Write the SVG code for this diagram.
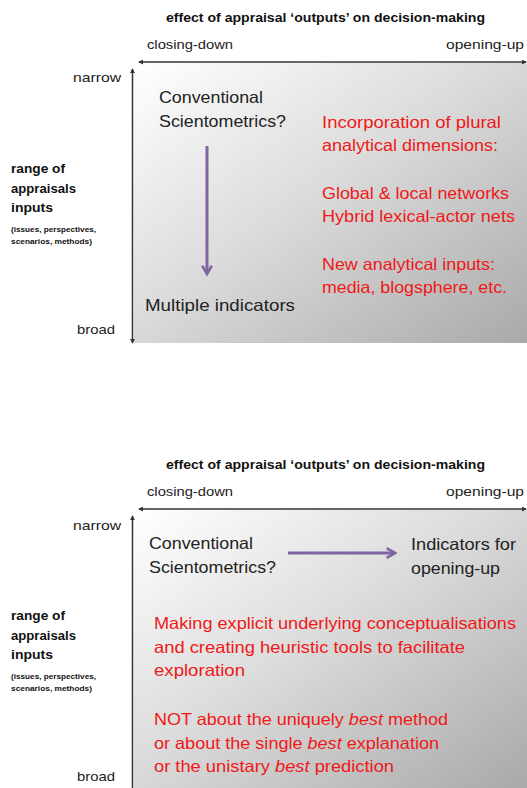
<svg xmlns="http://www.w3.org/2000/svg" width="527" height="788" viewBox="0 0 527 788">
<defs>
<linearGradient id="bg" x1="0" y1="0" x2="1" y2="1">
<stop offset="0" stop-color="#ffffff"/>
<stop offset="0.45" stop-color="#dcdcdc"/>
<stop offset="1" stop-color="#a9a9a9"/>
</linearGradient>
<marker id="ax" viewBox="0 0 6 6" refX="5" refY="3" markerWidth="5" markerHeight="5" orient="auto-start-reverse" markerUnits="userSpaceOnUse">
<path d="M0,0 L6,3 L0,6 Z" fill="#333"/>
</marker>
<marker id="pa" viewBox="0 0 10 10" refX="8" refY="5" markerWidth="4" markerHeight="4" orient="auto" markerUnits="strokeWidth">
<path d="M1,1 L8,5 L1,9" fill="none" stroke="#8064a2" stroke-width="2.2" stroke-linejoin="miter"/>
</marker>
</defs>
<style>
text{font-family:"Liberation Sans",Arial,sans-serif;}
.t{font-size:13px;font-weight:bold;fill:#111;}
.s{font-size:13px;fill:#222;}
.lab{font-size:13.5px;font-weight:bold;fill:#111;}
.tiny{font-size:7px;font-weight:bold;fill:#111;}
.big{font-size:16.5px;fill:#222;}
.red{font-size:16.5px;fill:#f01818;}
.axis{stroke:#333;stroke-width:1.5;fill:none;}
.parr{stroke:#8064a2;stroke-width:3;fill:none;}
</style>

<!-- Panel 1 -->
<g id="panel1-box"><rect x="134" y="63" width="393" height="280" fill="url(#bg)"/></g>
<g id="panel1-labels">
<text class="t" x="166" y="22" textLength="319" lengthAdjust="spacingAndGlyphs">effect of appraisal  ‘outputs’ on decision-making</text>
<text class="s" x="147" y="49" textLength="86" lengthAdjust="spacingAndGlyphs">closing-down</text>
<text class="s" x="446" y="49" textLength="78" lengthAdjust="spacingAndGlyphs">opening-up</text>
<text class="s" x="73" y="82" textLength="48" lengthAdjust="spacingAndGlyphs">narrow</text>
<text class="s" x="77" y="334" textLength="38" lengthAdjust="spacingAndGlyphs">broad</text>
<text class="lab" x="11" y="173" textLength="54" lengthAdjust="spacingAndGlyphs">range of</text>
<text class="lab" x="11" y="193" textLength="65" lengthAdjust="spacingAndGlyphs">appraisals</text>
<text class="lab" x="11" y="212" textLength="42" lengthAdjust="spacingAndGlyphs">inputs</text>
<text class="tiny" x="11" y="232" textLength="85" lengthAdjust="spacingAndGlyphs">(issues, perspectives,</text>
<text class="tiny" x="11" y="244" textLength="81" lengthAdjust="spacingAndGlyphs">scenarios, methods)</text>
</g>
<g id="p1-conventional">
<text class="big" x="159" y="103" textLength="104" lengthAdjust="spacingAndGlyphs">Conventional</text>
<text class="big" x="159" y="127" textLength="127" lengthAdjust="spacingAndGlyphs">Scientometrics?</text>
</g>
<g id="p1-multiple">
<text class="big" x="145" y="311" textLength="150" lengthAdjust="spacingAndGlyphs">Multiple indicators</text>
</g>
<g id="p1-red">
<text class="red" x="322" y="128" textLength="179" lengthAdjust="spacingAndGlyphs">Incorporation of plural</text>
<text class="red" x="322" y="151" textLength="176" lengthAdjust="spacingAndGlyphs">analytical dimensions:</text>
<text class="red" x="322" y="199" textLength="187" lengthAdjust="spacingAndGlyphs">Global &amp; local networks</text>
<text class="red" x="322" y="222" textLength="193" lengthAdjust="spacingAndGlyphs">Hybrid lexical-actor nets</text>
<text class="red" x="322" y="270" textLength="173" lengthAdjust="spacingAndGlyphs">New analytical inputs:</text>
<text class="red" x="322" y="293" textLength="185" lengthAdjust="spacingAndGlyphs">media, blogsphere, etc.</text>
</g>

<!-- Panel 2 -->
<g id="panel2-box"><rect x="134" y="510" width="393" height="278" fill="url(#bg)"/></g>
<g id="panel2-labels">
<text class="t" x="166" y="469" textLength="319" lengthAdjust="spacingAndGlyphs">effect of appraisal  ‘outputs’ on decision-making</text>
<text class="s" x="147" y="496" textLength="86" lengthAdjust="spacingAndGlyphs">closing-down</text>
<text class="s" x="446" y="496" textLength="78" lengthAdjust="spacingAndGlyphs">opening-up</text>
<text class="s" x="73" y="530" textLength="48" lengthAdjust="spacingAndGlyphs">narrow</text>
<text class="s" x="77" y="781" textLength="38" lengthAdjust="spacingAndGlyphs">broad</text>
<text class="lab" x="11" y="620" textLength="54" lengthAdjust="spacingAndGlyphs">range of</text>
<text class="lab" x="11" y="640" textLength="65" lengthAdjust="spacingAndGlyphs">appraisals</text>
<text class="lab" x="11" y="659" textLength="42" lengthAdjust="spacingAndGlyphs">inputs</text>
<text class="tiny" x="11" y="679" textLength="85" lengthAdjust="spacingAndGlyphs">(issues, perspectives,</text>
<text class="tiny" x="11" y="691" textLength="81" lengthAdjust="spacingAndGlyphs">scenarios, methods)</text>
</g>
<g id="p2-conventional">
<text class="big" x="149" y="549" textLength="104" lengthAdjust="spacingAndGlyphs">Conventional</text>
<text class="big" x="149" y="573" textLength="127" lengthAdjust="spacingAndGlyphs">Scientometrics?</text>
</g>
<g id="p2-indicators">
<text class="big" x="411" y="550" textLength="105" lengthAdjust="spacingAndGlyphs">Indicators for</text>
<text class="big" x="411" y="574" textLength="89" lengthAdjust="spacingAndGlyphs">opening-up</text>
</g>
<g id="p2-red">
<text class="red" x="154" y="629" textLength="362" lengthAdjust="spacingAndGlyphs">Making explicit underlying conceptualisations</text>
<text class="red" x="154" y="653" textLength="311" lengthAdjust="spacingAndGlyphs">and creating heuristic tools to facilitate</text>
<text class="red" x="154" y="676" textLength="91" lengthAdjust="spacingAndGlyphs">exploration</text>
<text class="red" x="154" y="725" textLength="294" lengthAdjust="spacingAndGlyphs">NOT about the uniquely <tspan font-style="italic">best</tspan> method</text>
<text class="red" x="154" y="749" textLength="285" lengthAdjust="spacingAndGlyphs">or about the  single <tspan font-style="italic">best</tspan> explanation</text>
<text class="red" x="154" y="772" textLength="240" lengthAdjust="spacingAndGlyphs">or the unistary <tspan font-style="italic">best</tspan> prediction</text>
</g>

<g id="connectors">
<line class="axis" x1="139" y1="62" x2="526" y2="62" marker-start="url(#ax)" marker-end="url(#ax)"/>
<line class="axis" x1="132.5" y1="69" x2="132.5" y2="343" marker-start="url(#ax)" marker-end="url(#ax)"/>
<line class="parr" x1="207" y1="146" x2="207" y2="274" marker-end="url(#pa)"/>
<line class="axis" x1="139" y1="509" x2="526" y2="509" marker-start="url(#ax)" marker-end="url(#ax)"/>
<line class="axis" x1="132.5" y1="516" x2="132.5" y2="790" marker-start="url(#ax)"/>
<line class="parr" x1="288" y1="553" x2="395" y2="553" marker-end="url(#pa)"/>
</g>
</svg>
